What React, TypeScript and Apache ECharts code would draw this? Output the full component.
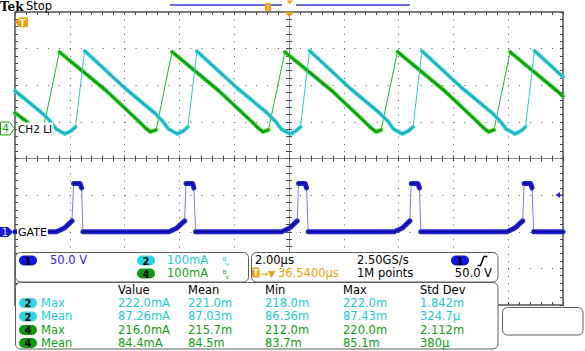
import React, { useEffect, useRef } from "react";
import * as echarts from "echarts";

// ---------------- data ----------------
// time in µs (2 µs/div, trigger at centre), values in channel units
const ch2Trace: [number, number][] = [
  [-10.0, 104.6], [-9.02, 44.5], [-8.72, 22.7], [-8.5, 0.8], [-8.18, -12.8], [-7.96, -4.6], [-7.79, 6.3], [-7.46, 214.0],
  [-6.0, 112.8], [-4.91, 44.5], [-4.62, 22.7], [-4.4, 0.8], [-4.07, -12.8], [-3.85, -4.6], [-3.69, 6.3], [-3.36, 213.0],
  [-1.9, 112.8], [-0.8, 44.5], [-0.51, 22.7], [-0.29, 0.8], [0.04, -12.8], [0.26, -4.6], [0.42, 6.3], [0.75, 214.5],
  [2.21, 112.8], [3.3, 44.5], [3.6, 22.7], [3.81, 0.8], [4.14, -12.8], [4.36, -4.6], [4.53, 6.3], [4.85, 213.5],
  [6.31, 112.8], [7.41, 44.5], [7.7, 22.7], [7.92, 0.8], [8.25, -12.8], [8.47, -4.6], [8.63, 6.3], [8.96, 214.0],
  [10.0, 142.9],
];
const ch4Trace: [number, number][] = [
  [-10.0, 44.5], [-9.56, 19.9], [-9.34, 3.6], [-9.16, -7.4], [-8.98, -3.0], [-8.38, 211.0],
  [-6.66, 104.6], [-5.46, 19.9], [-5.24, 3.6], [-5.06, -7.4], [-4.85, -1.9], [-4.27, 211.5],
  [-2.56, 104.6], [-1.35, 19.9], [-1.13, 3.6], [-0.95, -7.4], [-0.75, -1.9], [-0.15, 211.0],
  [1.57, 104.6], [2.77, 19.9], [2.99, 3.6], [3.18, -7.4], [3.36, -1.9], [3.96, 211.5],
  [5.68, 104.6], [6.88, 19.9], [7.1, 3.6], [7.28, -7.4], [7.48, -1.9], [8.07, 211.0],
  [9.78, 104.6], [10.0, 89.6],
];
const ch1Trace: [number, number][] = [
  [-10.0, 0], [-8.49, 0], [-8.19, 5.2], [-7.92, 14.8], [-7.86, 66.0], [-7.63, 66.0], [-7.57, 59.8], [-7.52, 0],
  [-4.38, 0], [-4.09, 5.2], [-3.81, 14.8], [-3.76, 66.0], [-3.52, 66.0], [-3.47, 59.8], [-3.41, 0],
  [-0.27, 0], [0.03, 5.2], [0.3, 14.8], [0.35, 66.0], [0.59, 66.0], [0.64, 59.8], [0.7, 0],
  [3.84, 0], [4.14, 5.2], [4.41, 14.8], [4.46, 66.0], [4.7, 66.0], [4.76, 59.8], [4.81, 0],
  [7.96, 0], [8.25, 5.2], [8.53, 14.8], [8.58, 66.0], [8.82, 66.0], [8.87, 59.8], [8.93, 0],
  [10.0, 0],
];

const ch1Scale = 50; // V/div
const ch1Position = -2; // div
const ch2Scale = 100; // mA/div
const ch2Position = 0.8;
const ch4Scale = 100; // mA/div
const ch4Position = 0.8;

const measHeaders = ["Value", "Mean", "Min", "Max", "Std Dev"];
const measChannels = ["2", "2", "4", "4"];
const measStats = ["Max", "Mean", "Max", "Mean"];
const measValue = ["222.0mA", "87.26mA", "216.0mA", "84.4mA"];
const measMean = ["221.0m", "87.03m", "215.7m", "84.5m"];
const measMin = ["218.0m", "86.36m", "212.0m", "83.7m"];
const measMax = ["222.0m", "87.43m", "220.0m", "85.1m"];
const measStd = ["1.842m", "324.7µ", "2.112m", "380µ"];

// ---------------- styling ----------------
const FONT = '11.5px "DejaVu Sans"';
const CYAN = "#1cc9d6";
const CYAN_PILL = "#2ad6e2";
const GREEN = "#12a012";
const GREEN_PILL = "#0d9a0d";
const BLUE = "#2626e0";
const ORANGE = "#f39c0c";

function toDivs(trace: [number, number][], scale: number, pos: number) {
  return trace.map(([t, v]) => [t, pos + v / scale]);
}
function slowOnly(trace: [number, number][], limit: number, scale: number, pos: number) {
  const out: any[] = [];
  for (let i = 0; i < trace.length; i++) {
    out.push([trace[i][0], pos + trace[i][1] / scale]);
    if (i < trace.length - 1) {
      const dt = trace[i + 1][0] - trace[i][0];
      const slope = Math.abs(trace[i + 1][1] - trace[i][1]) / dt;
      if (slope > limit) out.push([(trace[i][0] + trace[i + 1][0]) / 2, "-"]);
    }
  }
  return out;
}
function line(data: any[], color: string, width: number, z: number) {
  return {
    type: "line",
    data,
    xAxisIndex: 0,
    yAxisIndex: 0,
    showSymbol: false,
    symbol: "none",
    silent: true,
    connectNulls: false,
    z,
    lineStyle: { color, width, join: "round", cap: "round" },
  };
}

function txt(text: string, x: number, y: number, fill: string, extra: any = {}) {
  const align = extra.align || "left";
  return {
    type: "text",
    x,
    y,
    z: 100,
    style: {
      text,
      fill,
      font: extra.font || FONT,
      align,
      textAlign: align,
      verticalAlign: "middle",
      textVerticalAlign: "middle",
      ...(extra.style || {}),
    },
  };
}
function rect(x: number, y: number, w: number, h: number, r: number, fill: string, stroke?: string) {
  return {
    type: "rect",
    z: 100,
    shape: { x, y, width: w, height: h, r },
    style: { fill, stroke: stroke || null, lineWidth: 1 },
  };
}
function pill(x: number, y: number, color: string, label: string) {
  return [
    rect(x, y - 5, 18, 10, 5, color),
    txt(label, x + 9, y + 0.5, "#000", { align: "center", font: 'bold 10px "DejaVu Sans"' }),
  ];
}

function buildGraphic() {
  const g: any[] = [];
  // header
  g.push(txt("Tek", 0, 6.5, "#000", { font: 'bold 12px "DejaVu Serif"' }));
  g.push(txt("Stop", 26, 6, "#000"));
  g.push({ type: "line", z: 100, shape: { x1: 170, y1: 5, x2: 282, y2: 5 }, style: { stroke: "#3a3ad8", lineWidth: 1.5 } });
  g.push({ type: "line", z: 100, shape: { x1: 296, y1: 5, x2: 410, y2: 5 }, style: { stroke: "#3a3ad8", lineWidth: 1.5 } });
  g.push(rect(265, 3, 6, 8, 1, ORANGE));
  g.push({ type: "line", z: 101, shape: { x1: 268, y1: 4, x2: 268, y2: 10 }, style: { stroke: "#ffd890", lineWidth: 1 } });
  g.push({ type: "polygon", z: 100, shape: { points: [[286.5, 0.5], [293, 0.5], [289.75, 4]] }, style: { fill: ORANGE } });
  g.push({ type: "polygon", z: 100, shape: { points: [[284.5, 12], [294, 12], [289.25, 17]] }, style: { fill: ORANGE } });
  // trigger marker (left)
  g.push({ type: "polygon", z: 100, shape: { points: [[15, 22], [19, 17.5], [28, 17.5], [28, 27], [19, 27]] }, style: { fill: ORANGE } });
  g.push(txt("T", 22.5, 22.5, "#fff", { align: "center", font: 'bold 9px "DejaVu Sans"' }));
  // ch4 marker + label
  g.push({ type: "polygon", z: 100, shape: { points: [[0.5, 122], [9.5, 122], [14.5, 128.5], [9.5, 135], [0.5, 135]] }, style: { fill: "#fff", stroke: GREEN, lineWidth: 1 } });
  g.push(txt("4", 5.5, 128.8, GREEN, { align: "center", font: '11px "DejaVu Sans"' }));
  g.push(txt("CH2 LI", 17, 129, "#000", { font: '10.5px "DejaVu Sans"', style: { backgroundColor: "#fff", padding: [1, 1] } }));
  // ch1 marker + label
  g.push({ type: "polygon", z: 100, shape: { points: [[0, 227], [8, 227], [13, 232], [8, 237], [0, 237]] }, style: { fill: "#1818e0" } });
  g.push(txt("1", 5, 232.3, "#dfe4ff", { align: "center", font: '10px "DejaVu Sans"' }));
  g.push(txt("GATE", 17, 232.5, "#000", { font: '11px "DejaVu Sans"', style: { backgroundColor: "#fff", padding: [1, 1] } }));
  // trigger level arrow (right)
  g.push({ type: "polygon", z: 100, shape: { points: [[555.5, 195], [560, 192], [560, 198]] }, style: { fill: BLUE } });
  g.push({ type: "line", z: 100, shape: { x1: 560, y1: 195, x2: 563, y2: 195 }, style: { stroke: BLUE, lineWidth: 1 } });

  // panels
  const stroke = "#5e5e5e";
  g.push(rect(15.5, 252.5, 233, 29.5, 5, "#fff", stroke));
  g.push(rect(251.5, 252.5, 246.5, 29.5, 5, "#fff", stroke));
  g.push(rect(15.5, 282.5, 482.5, 66.5, 5, "#fff", stroke));
  g.push(rect(502.5, 307.5, 80.5, 27.5, 5, "#fff", stroke));

  // panel 1
  g.push(...pill(19, 260.5, "#1414e0", "1"));
  g.push(txt("50.0 V", 50, 260, BLUE));
  g.push(...pill(137, 260.5, CYAN_PILL, "2"));
  g.push(txt("100mA", 167, 260, CYAN));
  g.push(txt("B", 222.5, 258, CYAN, { font: '6px "DejaVu Sans"' }));
  g.push(txt("v", 225.5, 263, CYAN, { font: '6px "DejaVu Sans"' }));
  g.push(...pill(137, 273.5, GREEN_PILL, "4"));
  g.push(txt("100mA", 167, 273, GREEN));
  g.push(txt("B", 222.5, 271, GREEN, { font: '6px "DejaVu Sans"' }));
  g.push(txt("v", 225.5, 276, GREEN, { font: '6px "DejaVu Sans"' }));

  // panel 2
  g.push(txt("2.00µs", 255, 260, "#000"));
  g.push(txt("2.50GS/s", 357, 260, "#000"));
  g.push(...pill(451, 260.5, "#1414e0", "1"));
  g.push({ type: "polyline", z: 100, shape: { points: [[477.5, 265.5], [480.5, 265.5], [484, 256.5], [487.5, 256.5]] }, style: { stroke: "#000", lineWidth: 1.5, fill: null } });
  g.push(rect(252, 267.5, 7.5, 10, 1, ORANGE));
  g.push(txt("T", 255.8, 273, "#fff", { align: "center", font: 'bold 9px "DejaVu Sans"' }));
  g.push(txt("→▼", 260, 273, ORANGE, { font: '9.5px "DejaVu Sans"' }));
  g.push(txt("36.5400µs", 278, 273, ORANGE));
  g.push(txt("1M points", 357, 273, "#000"));
  g.push(txt("50.0 V", 492, 273, "#000", { align: "right" }));

  // panel 3 : measurements
  const colX = [118, 188, 265, 343, 420];
  measHeaders.forEach((h, i) => g.push(txt(h, colX[i], 290, "#000")));
  const rowY = [302.5, 316, 329.5, 342.5];
  for (let r = 0; r < measChannels.length; r++) {
    const isCyan = measChannels[r] === "2";
    const c = isCyan ? CYAN : GREEN;
    g.push(...pill(19, rowY[r] + 0.5, isCyan ? CYAN_PILL : GREEN_PILL, measChannels[r]));
    g.push(txt(measStats[r], 41, rowY[r], c));
    const cells = [measValue[r], measMean[r], measMin[r], measMax[r], measStd[r]];
    cells.forEach((s, i) => g.push(txt(s, colX[i], rowY[r], c)));
  }
  return g;
}

export default function App() {
  const ref = useRef<HTMLDivElement>(null);
  useEffect(() => {
    if (!ref.current) return;
    const chart = echarts.init(ref.current, undefined, { renderer: "svg" });

    const frameLine = { show: true, onZero: false, lineStyle: { color: "#7d7d7d", width: 2 } };
    const centerLine = { show: true, onZero: true, lineStyle: { color: "#8a8a8a", width: 1 } };
    const tickStyle = { color: "#444", width: 1 };
    const baseX = { type: "value", min: -10, max: 10, interval: 2, axisLabel: { show: false }, silent: true };
    const baseY = { type: "value", min: -4, max: 4, interval: 1, axisLabel: { show: false }, silent: true };
    const ticks = (inside: boolean) => ({
      axisTick: { show: true, inside, length: 3, lineStyle: tickStyle },
      minorTick: { show: true, splitNumber: 5, length: 3, lineStyle: tickStyle },
    });

    const series: any[] = [];
    // gate (ch1)
    series.push(line(toDivs(ch1Trace, ch1Scale, ch1Position), "#7a7aee", 1, 3));
    series.push(line(slowOnly(ch1Trace, 200, ch1Scale, ch1Position), "#2222d2", 5, 4));
    series.push(line(slowOnly(ch1Trace, 200, ch1Scale, ch1Position), "#0a0a90", 1.5, 5));
    // ch4 green
    series.push(line(toDivs(ch4Trace, ch4Scale, ch4Position), "#22b822", 1, 6));
    series.push(line(slowOnly(ch4Trace, 200, ch4Scale, ch4Position), "#2ec82e", 4, 7));
    series.push(line(slowOnly(ch4Trace, 200, ch4Scale, ch4Position), "#0a8f0a", 1.4, 8));
    // ch2 cyan
    series.push(line(toDivs(ch2Trace, ch2Scale, ch2Position), "#2cc6d0", 1, 9));
    series.push(line(slowOnly(ch2Trace, 200, ch2Scale, ch2Position), "#45d2dc", 4, 10));
    series.push(line(slowOnly(ch2Trace, 200, ch2Scale, ch2Position), "#12a8b6", 1.4, 11));

    chart.setOption({
      animation: false,
      backgroundColor: "#ffffff",
      grid: { left: 15, top: 12, width: 548, height: 293, containLabel: false },
      xAxis: [
        { ...baseX, position: "bottom", axisLine: frameLine, ...ticks(true), splitLine: { show: true, lineStyle: { color: "#555", width: 1, type: [1, 6.33] } } },
        { ...baseX, position: "top", axisLine: frameLine, ...ticks(true), splitLine: { show: false } },
        { ...baseX, position: "bottom", axisLine: centerLine, ...ticks(true), splitLine: { show: false } },
        { ...baseX, position: "bottom", axisLine: centerLine, ...ticks(false), splitLine: { show: false } },
      ],
      yAxis: [
        { ...baseY, position: "left", axisLine: frameLine, ...ticks(true), splitLine: { show: true, lineStyle: { color: "#555", width: 1, type: [1, 9.96] } } },
        { ...baseY, position: "right", axisLine: frameLine, ...ticks(true), splitLine: { show: false } },
        { ...baseY, position: "left", axisLine: centerLine, ...ticks(true), splitLine: { show: false } },
        { ...baseY, position: "left", axisLine: centerLine, ...ticks(false), splitLine: { show: false } },
      ],
      series,
      graphic: { elements: buildGraphic() },
    });
    return () => chart.dispose();
  }, []);
  return <div ref={ref} style={{ position: "fixed", left: 0, top: 0, width: 585, height: 351 }} />;
}
